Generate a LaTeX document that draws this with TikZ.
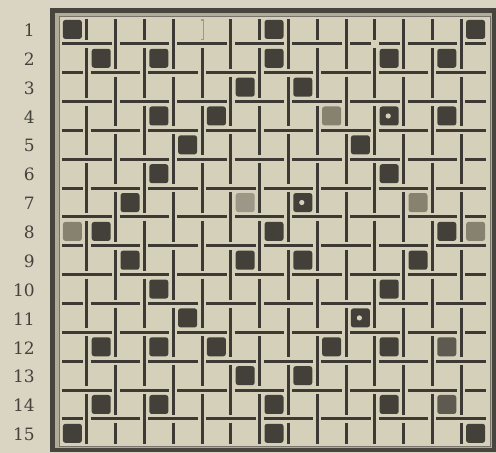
\documentclass[tikz,border=0pt]{standalone}
\usepackage{fontspec}
\newfontfamily\labfont{DejaVu Serif}
\definecolor{paper}{HTML}{D9D5C2}
\definecolor{gridpaper}{HTML}{D5D0B9}
\definecolor{ink}{HTML}{3D3934}
\definecolor{faintink}{HTML}{9F9A88}
\definecolor{frameink}{HTML}{48443E}
\definecolor{innerink}{HTML}{77736A}
\definecolor{bevel}{HTML}{B0AC99}
\definecolor{sqdark}{HTML}{43403A}
\definecolor{sqgray}{HTML}{87826F}
\definecolor{sqlight}{HTML}{9C9786}
\definecolor{sqmid}{HTML}{5E5A50}
\definecolor{labink}{HTML}{45413B}
\newcommand\setflag[1]{\expandafter\def\csname #1\endcsname{}}
% irregular crossing: H line also broken at column line 11, row line 1
\setflag{fh@11@1}
% faint (hollow) vertical segment, drawn separately
\setflag{mv@5@0}
\begin{document}
\begin{tikzpicture}[x=1pt,y=-1pt,
  wall/.style={draw=ink,line width=3pt},
  sqbase/.style={rectangle,minimum width=19pt,minimum height=19pt,inner sep=0pt,rounded corners=2.5pt,draw=none},
  darksq/.style={sqbase,fill=sqdark},
  graysq/.style={sqbase,fill=sqgray},
  lightsq/.style={sqbase,fill=sqlight},
  midsq/.style={sqbase,fill=sqmid},
  lab/.style={anchor=east,inner sep=0pt,text=labink,font=\labfont\fontsize{17}{17}\selectfont}]
\useasboundingbox (0,0) rectangle (496,453);
\fill[paper] (0,0) rectangle (496,453);
\fill[bevel] (52.5,10) rectangle (493.5,450);
\fill[gridpaper] (59,16) rectangle (490,446.5);
\draw[frameink,line width=5pt] (52.5,10) -- (493.5,10);
\draw[frameink,line width=5pt] (52.5,7.5) -- (52.5,450);
\draw[frameink,line width=4pt] (493.5,8) -- (493.5,452);
\draw[frameink,line width=4pt] (50,450) -- (495.5,450);
\draw[innerink,line width=1pt] (59,16) rectangle (490,446.5);
% horizontal walls
\foreach \rr in {1,...,14}{
  \foreach \kk in {0,...,14}{
    \pgfmathtruncatemacro\kn{\kk+1}
    \pgfmathtruncatemacro\sg{ifthenelse(\kk==0,1,mod(\kk+\rr,2))}
    \ifcsname fh@\kk @\rr\endcsname\pgfmathtruncatemacro\sg{1-\sg}\fi
    \pgfmathtruncatemacro\eg{ifthenelse(\kn==15,1,mod(\kn+\rr,2))}
    \ifcsname fh@\kn @\rr\endcsname\pgfmathtruncatemacro\eg{1-\eg}\fi
    \ifcsname mh@\kk @\rr\endcsname\else
      \draw[wall] ({58+28.8*\kk+4*\sg},{15+28.85*\rr}) -- ({58+28.8*\kn-4*\eg},{15+28.85*\rr});
    \fi
  }
}
% vertical walls
\foreach \kk in {1,...,14}{
  \foreach \rr in {0,...,14}{
    \pgfmathtruncatemacro\rn{\rr+1}
    \pgfmathtruncatemacro\sg{ifthenelse(\rr==0,1,1-mod(\kk+\rr,2))}
    \ifcsname fv@\kk @\rr\endcsname\pgfmathtruncatemacro\sg{1-\sg}\fi
    \pgfmathtruncatemacro\eg{ifthenelse(\rn==15,1,1-mod(\kk+\rn,2))}
    \ifcsname fv@\kk @\rn\endcsname\pgfmathtruncatemacro\eg{1-\eg}\fi
    \ifcsname mv@\kk @\rr\endcsname\else
      \draw[wall] ({58+28.8*\kk},{15+28.85*\rr+4*\sg}) -- ({58+28.8*\kk},{15+28.85*\rn-4*\eg});
    \fi
  }
}
% faint hollow segment in row 1
\draw[draw=faintink,line width=3pt] ({58+28.8*5},19) -- ({58+28.8*5},39.85);
\draw[draw=gridpaper,line width=1.1pt] ({58+28.8*5},20.5) -- ({58+28.8*5},38.5);
% filled squares
\foreach \r/\c in {1/1,1/8,1/15,2/2,2/4,2/8,2/12,2/14,3/7,3/9,4/4,4/6,4/12,4/14,5/5,5/11,6/4,6/12,7/3,7/9,8/2,8/8,8/14,9/3,9/7,9/9,9/13,10/4,10/12,11/5,11/11,12/2,12/4,12/6,12/10,12/12,13/7,13/9,14/2,14/4,14/8,14/12,15/1,15/8,15/15}{
  \node[darksq] (sq-\r-\c) at ({58+28.8*(\c-0.5)},{15+28.85*(\r-0.5)}) {};
}
\foreach \r/\c in {4/10,7/13,8/1,8/15}{
  \node[graysq] (sq-\r-\c) at ({58+28.8*(\c-0.5)},{15+28.85*(\r-0.5)}) {};
}
\node[lightsq] (sq-7-7) at ({58+28.8*6.5},{15+28.85*6.5}) {};
\foreach \r/\c in {12/14,14/14}{
  \node[midsq] (sq-\r-\c) at ({58+28.8*(\c-0.5)},{15+28.85*(\r-0.5)}) {};
}
% light specks inside some squares
\foreach \r/\c in {4/12,7/9,11/11}{
  \fill[gridpaper] ({58+28.8*(\c-0.5)-1},{15+28.85*(\r-0.5)}) circle (2.6pt);
}
% row labels
\foreach \r in {1,...,15}{
  \node[lab] (lab-\r) at (35,{15+28.85*(\r-0.5)+1}) {\r};
}
\end{tikzpicture}
\end{document}
